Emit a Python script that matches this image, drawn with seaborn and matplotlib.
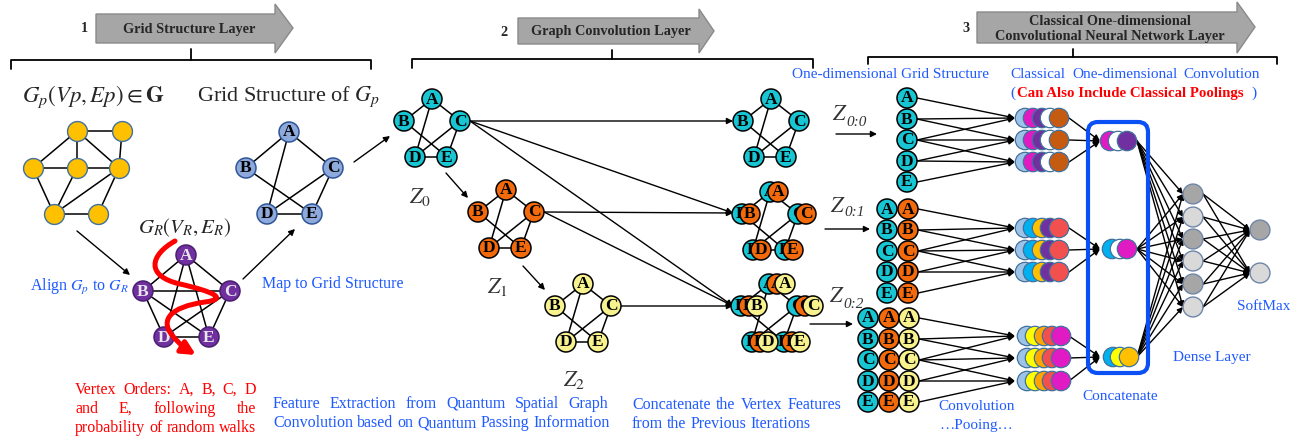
import numpy as np
import matplotlib
matplotlib.use("Agg")
import matplotlib.pyplot as plt
import seaborn as sns
from matplotlib.patches import Circle, Polygon, FancyBboxPatch, FancyArrowPatch
from matplotlib.path import Path

# ---- content -------------------------------------------------------------
VERTICES = ["A", "B", "C", "D", "E"]
PENTA_EDGES = [("A", "B"), ("A", "C"), ("A", "D"), ("B", "E"), ("C", "D"), ("C", "E"), ("D", "E")]
K5_EDGES = [(a, b) for i, a in enumerate(VERTICES) for b in VERTICES[i + 1:]]
GP_EDGES = [(0, 1), (0, 2), (0, 3), (0, 4), (1, 4), (2, 3), (3, 4), (2, 5), (3, 5), (5, 4), (4, 6), (5, 6)]

LAYER_TITLES = ["Grid Structure Layer", "Graph Convolution Layer",
                "Classical One-dimensional\nConvolutional Neural Network Layer"]
LAYER_NUMBERS = ["1", "2", "3"]
Z_LABELS = [r"$Z_0$", r"$Z_1$", r"$Z_2$"]
ZC_SUBS = ["0:0", "0:1", "0:2"]

RED_NOTE = ["Vertex Orders: A, B, C, D", "and E, following the", "probability of random walks"]
FEAT_NOTE = ["Feature Extraction from Quantum Spatial Graph",
             "Convolution based on Quantum Passing Information"]
CONCAT_NOTE = ["Concatenate the Vertex Features", "from the Previous Iterations"]

ITER_COLORS = ["#17C5D3", "#F26A0C", "#F8F28E"]
CONV_COLORS = [["#9DC3E6", "#E01BC4", "#7030A0", "#FFFFFF", "#C55A11"],
               ["#9DC3E6", "#00B0F0", "#FFC000", "#7030A0", "#F24F4F"],
               ["#9DC3E6", "#FFFF00", "#FFA500", "#F24F4F", "#E01BC4"]]
CONCAT_COLORS = [["#E01BC4", "#FFFFFF", "#7030A0"],
                 ["#00B0F0", "#FFFFFF", "#E01BC4"],
                 ["#00B0F0", "#FFFF00", "#FFC000"]]
DENSE_COLORS = ["#A6A6A6", "#D9D9D9", "#A6A6A6", "#D9D9D9", "#A6A6A6", "#D9D9D9"]
SOFTMAX_COLORS = ["#A6A6A6", "#D9D9D9"]

BLUE = "#1E5AFF"

# ---- layout (pixels) -----------------------------------------------------
gp_xy = [(77, 131), (122, 131), (33, 168), (77, 168), (119, 168), (54, 214), (98, 214)]
big_shape = {"A": (0, 0), "B": (-43, 36), "C": (44, 36), "D": (-22, 82), "E": (23, 82)}
small_shape = {"A": (0, 0), "B": (-28, 22), "C": (28, 22), "D": (-17, 58), "E": (15, 58)}

sns.set_theme(style="white")
plt.rcParams["font.family"] = ["Liberation Serif", "DejaVu Serif"]
plt.rcParams["mathtext.fontset"] = "stix"

fig = plt.figure(figsize=(13.06, 4.41), dpi=100)
ax = fig.add_axes([0, 0, 1, 1])
ax.set_xlim(0, 1306)
ax.set_ylim(441, 0)
ax.axis("off")
renderer = fig.canvas.get_renderer()


def node(x, y, fc, label=None, ec="black", tc="black", r=10, z=3.0, fs=12.5, lw=1.1):
    ax.add_patch(Circle((x, y), r, fc=fc, ec=ec, lw=lw, zorder=z))
    if label:
        ax.text(x, y + 0.5, label, ha="center", va="center", fontsize=fs,
                fontweight="bold", color=tc, zorder=z + 0.01)


def edge(p, q, lw=1.1):
    ax.plot([p[0], q[0]], [p[1], q[1]], color="black", lw=lw, zorder=2)


def arrow(p, q, color="black", lw=1.0, ms=9):
    ax.annotate("", xy=q, xytext=p, zorder=2.5,
                arrowprops=dict(arrowstyle="-|>", color=color, lw=lw,
                                mutation_scale=ms, shrinkA=0, shrinkB=0))


def pos(shape, ax0, ay0):
    return {k: (ax0 + dx, ay0 + dy) for k, (dx, dy) in shape.items()}


def graph(shape, ax0, ay0, fc, edges, ec="black", tc="black", z=3.0):
    p = pos(shape, ax0, ay0)
    for a, b in edges:
        edge(p[a], p[b])
    for i, v in enumerate(VERTICES):
        node(*p[v], fc, v, ec=ec, tc=tc, z=z + i * 0.02)
    return p


def banner(x0, x1, y0, y1, hy0, hy1, tip, num, title, tx, ty, numx):
    ax.add_patch(Polygon([(x0, y0), (x1, y0), (x1, hy0), (tip[0], tip[1]), (x1, hy1), (x1, y1), (x0, y1)],
                         closed=True, fc="#A6A6A6", ec="#8A8A8A", lw=1.0, zorder=1))
    ax.text(tx, ty, title, ha="center", va="center", fontsize=10.3, fontweight="bold",
            linespacing=1.15, zorder=2)
    ax.text(numx, ty if "\n" not in title else (y0 + y1) / 2 + 1, num, ha="center", va="center",
            fontsize=10.3, fontweight="bold")


def bracket(x0, x1, y, yend, xc, ytop):
    ax.plot([x0, x0, x1, x1], [yend, y, y, yend], color="black", lw=1.3)
    ax.plot([xc, xc], [ytop, y], color="black", lw=1.3)


def justify(lines, x0, x1, y0, dy, color, fs=11.5):
    for i, line in enumerate(lines):
        words = line.split()
        y = y0 + i * dy
        ts = [ax.text(0, y, w, ha="left", va="center", fontsize=fs, color=color) for w in words]
        ws = [t.get_window_extent(renderer).width for t in ts]
        if i == len(lines) - 1:
            gap = fs * 0.25 * 100 / 72
        else:
            gap = (x1 - x0 - sum(ws)) / (len(words) - 1)
        x = x0
        for t, w in zip(ts, ws):
            t.set_x(x)
            x += w + gap


# ---- headers -------------------------------------------------------------
banner(96, 275, 14, 43, 4, 53, (293, 28), LAYER_NUMBERS[0], LAYER_TITLES[0], 189, 29, 84)
banner(518, 699, 18, 44, 9, 53, (714, 31), LAYER_NUMBERS[1], LAYER_TITLES[1], 611, 32, 504)
banner(977, 1237, 12, 43, 2, 53, (1255, 27), LAYER_NUMBERS[2], LAYER_TITLES[2], 1110, 29, 966)
bracket(11, 371, 60, 69, 191, 49)
bracket(412, 813, 59, 68, 612, 50)
bracket(868, 1277, 57, 64, 1073, 49)

# ---- section 1 -----------------------------------------------------------
ax.text(22, 97, r"$G_p(Vp, Ep) \in \mathbf{G}$", ha="left", va="center", fontsize=16.5)
ax.text(197, 97, r"Grid Structure of $G_p$", ha="left", va="center", fontsize=16)
for a, b in GP_EDGES:
    edge(gp_xy[a], gp_xy[b])
sns.scatterplot(x=[p[0] for p in gp_xy], y=[p[1] for p in gp_xy], ax=ax, s=205,
                color="#FFC000", edgecolor="#41719C", linewidth=1.0, zorder=3, legend=False)

graph(big_shape, 289, 132, "#8EA9DB", PENTA_EDGES, ec="#2F5597")
graph(big_shape, 186, 255, "#7030A0", K5_EDGES, ec="#4A1F70", tc="#E8E8E8")
ax.text(138, 228, r"$G_R(V_R,E_R)$", ha="left", va="center", fontsize=15)

walk = [(175, 241), (150, 255), (145, 276), (180, 284), (215, 292), (228, 299), (205, 302),
        (170, 307), (160, 320), (172, 335), (178, 343), (186, 349), (196, 355)]
codes = [Path.MOVETO] + [Path.CURVE4] * (len(walk) - 1)
ax.add_patch(FancyArrowPatch(path=Path(walk, codes), arrowstyle="-|>", mutation_scale=20,
                             lw=3.6, color="#FF0000", zorder=5))

arrow((77, 231), (130, 275))
arrow((243, 279), (295, 229))
arrow((354, 162), (390, 136))
ax.text(30, 287, r"Align $G_p$ to $G_R$", ha="left", va="center", fontsize=11.5, color=BLUE)
ax.text(262, 284, "Map to Grid Structure", ha="left", va="center", fontsize=11.5, color=BLUE)
justify(RED_NOTE, 75, 256, 390, 19, "#FF0000")

# ---- section 2 -----------------------------------------------------------
z_anchor = [(432, 99), (506, 190), (583, 284)]
z_text = [(420, 197), (497, 287), (574, 380)]
cs = []
for k, (gx, gy) in enumerate(z_anchor):
    p = graph(small_shape, gx, gy, ITER_COLORS[k], PENTA_EDGES)
    cs.append(p["C"])
    ax.text(*z_text[k], Z_LABELS[k], ha="center", va="center", fontsize=16, color="#333333")
arrow((446, 173), (468, 198))
arrow((523, 266), (545, 290))

right_y = [99, 192, 284]
for k, ry in enumerate(right_y):
    base = 771 - 1 * k
    p0 = pos(small_shape, base, ry)
    for a, b in PENTA_EDGES:
        edge(p0[a], p0[b])
    for v in VERTICES:
        for j in range(k + 1):
            x, y = p0[v]
            node(x + 8 * j, y, ITER_COLORS[j], v, z=3 + j * 0.1)

targets = [(733, 121), (733, 213), (733, 306)]
for k in range(3):
    start = (cs[k][0] + 10, cs[k][1])
    for t in range(k, 3):
        arrow(start, targets[t])

justify(FEAT_NOTE, 273, 608, 404, 19, BLUE)
justify(CONCAT_NOTE, 632, 841, 405, 19, BLUE)

# ---- section 3 -----------------------------------------------------------
ax.text(792, 74, "One-dimensional Grid Structure", ha="left", va="center", fontsize=11, color=BLUE)
for w, x in zip(["Classical", "One-dimensional", "Convolution"], [1010, 1072, 1183]):
    ax.text(x, 75, w, ha="left", va="center", fontsize=11, color=BLUE)
ax.text(1010, 93, "(", ha="left", va="center", fontsize=11, color=BLUE)
ax.text(1017, 93, "Can Also Include Classical Poolings", ha="left", va="center",
        fontsize=10.7, fontweight="bold", color="#FF0000")
ax.text(1251, 93, ")", ha="left", va="center", fontsize=11, color=BLUE)

zc_xy = [(832, 116), (830, 207), (829, 298)]
zc_arrows = [((836, 134), (877, 134)), ((825, 229), (870, 229)), ((810, 324), (853, 324))]
for k in range(3):
    zx, zy = zc_xy[k]
    ax.text(zx, zy, r"$Z$", ha="left", va="center", fontsize=16, color="#333333")
    ax.text(zx + 14, zy + 6, ZC_SUBS[k], ha="left", va="center", fontsize=11,
            style="italic", color="#333333")
    arrow(*zc_arrows[k])

col_x = [[907], [887, 908], [868, 889, 909]]
col_y0 = [98, 209, 318]
conv_y = [[118, 140, 162], [228, 250, 272], [336, 358, 381]]
conv_x = [1025, 1033, 1042, 1050, 1059]
concat_xy = [([1110, 1118, 1127], 141), ([1112, 1120, 1127], 249), ([1113, 1120, 1129], 357)]
for g in range(3):
    for j, cx in enumerate(col_x[g]):
        for i, v in enumerate(VERTICES):
            node(cx, col_y0[g] + 21 * i, ITER_COLORS[j], v, z=3 + j * 0.1)
    for i in range(5):
        for c in range(max(0, i - 2), min(2, i) + 1):
            arrow((col_x[g][-1] + 10, col_y0[g] + 21 * i), (1015, conv_y[g][c]))
    for c in range(3):
        for m, col in enumerate(CONV_COLORS[g]):
            node(conv_x[m] + (2 if g == 2 else 0), conv_y[g][c], col, ec="#41719C",
                 r=9.7, z=3 + m * 0.1, lw=0.9)
        arrow((1069, conv_y[g][c]), (1100, concat_xy[g][1]))
    xs, cy = concat_xy[g]
    for m, col in enumerate(CONCAT_COLORS[g]):
        node(xs[m], cy, col, ec="#41719C", r=9.7, z=3 + m * 0.1, lw=0.9)

ax.add_patch(FancyBboxPatch((1088, 122), 60, 251, boxstyle="round,pad=0,rounding_size=10",
                            fc="none", ec="#0A50F5", lw=3.0, zorder=4))

dense_y = [194, 217, 239, 261, 284, 307]
soft_y = [230, 273]
for g in range(3):
    for dy in dense_y:
        arrow((1137, concat_xy[g][1]), (1183, dy), lw=1.0, ms=8)
for dy in dense_y:
    for sy in soft_y:
        arrow((1203, dy), (1250, sy), lw=1.0, ms=8)
sns.scatterplot(x=[1193] * len(dense_y), y=dense_y, hue=list(range(len(dense_y))),
                palette=DENSE_COLORS, ax=ax, s=205, edgecolor="#6F86A8", linewidth=1.0,
                zorder=3, legend=False)
sns.scatterplot(x=[1260] * len(soft_y), y=soft_y, hue=list(range(len(soft_y))),
                palette=SOFTMAX_COLORS, ax=ax, s=205, edgecolor="#6F86A8", linewidth=1.0,
                zorder=3, legend=False)
ax.set_xlim(0, 1306)
ax.set_ylim(441, 0)
ax.axis("off")

ax.text(1264, 307, "SoftMax", ha="center", va="center", fontsize=11, color=BLUE)
ax.text(1212, 358, "Dense Layer", ha="center", va="center", fontsize=11, color=BLUE)
ax.text(1120, 397, "Concatenate", ha="center", va="center", fontsize=11, color=BLUE)
ax.text(977, 407, "Convolution", ha="center", va="center", fontsize=11, color=BLUE)
ax.text(976, 426, "\u2026Pooing\u2026", ha="center", va="center", fontsize=11, color=BLUE)

fig.savefig("out.png", dpi=100, facecolor="white")
